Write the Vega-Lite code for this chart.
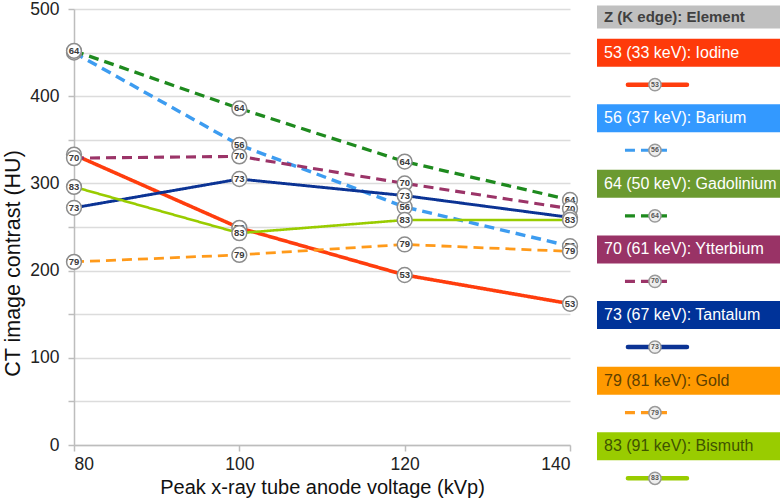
{
  "$schema": "https://vega.github.io/schema/vega-lite/v6.json",
  "padding": {"left": 2, "top": 0, "right": 0, "bottom": 0},
  "background": "white",
  "config": {"font": "Liberation Sans", "view": {"stroke": null}, "concat": {"spacing": 16}},
  "datasets": {
    "points": [
      {"element": "53 (33 keV): Iodine", "z": 53, "kvp": 80, "hu": 333},
      {"element": "53 (33 keV): Iodine", "z": 53, "kvp": 100, "hu": 249},
      {"element": "53 (33 keV): Iodine", "z": 53, "kvp": 120, "hu": 195},
      {"element": "53 (33 keV): Iodine", "z": 53, "kvp": 140, "hu": 162},
      {"element": "56 (37 keV): Barium", "z": 56, "kvp": 80, "hu": 450},
      {"element": "56 (37 keV): Barium", "z": 56, "kvp": 100, "hu": 344},
      {"element": "56 (37 keV): Barium", "z": 56, "kvp": 120, "hu": 273},
      {"element": "56 (37 keV): Barium", "z": 56, "kvp": 140, "hu": 228},
      {"element": "64 (50 keV): Gadolinium", "z": 64, "kvp": 80, "hu": 452},
      {"element": "64 (50 keV): Gadolinium", "z": 64, "kvp": 100, "hu": 386},
      {"element": "64 (50 keV): Gadolinium", "z": 64, "kvp": 120, "hu": 325},
      {"element": "64 (50 keV): Gadolinium", "z": 64, "kvp": 140, "hu": 281},
      {"element": "70 (61 keV): Ytterbium", "z": 70, "kvp": 80, "hu": 329},
      {"element": "70 (61 keV): Ytterbium", "z": 70, "kvp": 100, "hu": 331},
      {"element": "70 (61 keV): Ytterbium", "z": 70, "kvp": 120, "hu": 300},
      {"element": "70 (61 keV): Ytterbium", "z": 70, "kvp": 140, "hu": 271},
      {"element": "73 (67 keV): Tantalum", "z": 73, "kvp": 80, "hu": 272},
      {"element": "73 (67 keV): Tantalum", "z": 73, "kvp": 100, "hu": 305},
      {"element": "73 (67 keV): Tantalum", "z": 73, "kvp": 120, "hu": 286},
      {"element": "73 (67 keV): Tantalum", "z": 73, "kvp": 140, "hu": 261},
      {"element": "79 (81 keV): Gold", "z": 79, "kvp": 80, "hu": 210},
      {"element": "79 (81 keV): Gold", "z": 79, "kvp": 100, "hu": 218},
      {"element": "79 (81 keV): Gold", "z": 79, "kvp": 120, "hu": 230},
      {"element": "79 (81 keV): Gold", "z": 79, "kvp": 140, "hu": 222},
      {"element": "83 (91 keV): Bismuth", "z": 83, "kvp": 80, "hu": 296},
      {"element": "83 (91 keV): Bismuth", "z": 83, "kvp": 100, "hu": 243},
      {"element": "83 (91 keV): Bismuth", "z": 83, "kvp": 120, "hu": 258},
      {"element": "83 (91 keV): Bismuth", "z": 83, "kvp": 140, "hu": 258}
    ],
    "legend": [
      {"element": "53 (33 keV): Iodine", "z": 53, "order": 1},
      {"element": "56 (37 keV): Barium", "z": 56, "order": 2},
      {"element": "64 (50 keV): Gadolinium", "z": 64, "order": 3},
      {"element": "70 (61 keV): Ytterbium", "z": 70, "order": 4},
      {"element": "73 (67 keV): Tantalum", "z": 73, "order": 5},
      {"element": "79 (81 keV): Gold", "z": 79, "order": 6},
      {"element": "83 (91 keV): Bismuth", "z": 83, "order": 7}
    ]
  },
  "hconcat": [
    {
      "width": 496,
      "height": 436,
      "data": {"name": "points"},
      "encoding": {
        "x": {"field": "kvp", "type": "quantitative",
          "scale": {"domain": [80, 140], "nice": false, "zero": false},
          "axis": {"values": [80, 100, 120, 140], "grid": false, "title": "Peak x-ray tube anode voltage (kVp)",
            "titleFontSize": 20, "titleFontWeight": "normal", "titleColor": "#111111", "titlePadding": 5,
            "labelFontSize": 17.5, "labelColor": "#222222", "labelPadding": 4,
            "tickColor": "#bdbdbd", "tickSize": 6, "tickWidth": 1.5, "domainColor": "#bdbdbd", "domainWidth": 1.5}},
        "y": {"field": "hu", "type": "quantitative",
          "scale": {"domain": [0, 500], "nice": false, "zero": false},
          "axis": {"values": [0, 50, 100, 150, 200, 250, 300, 350, 400, 450, 500],
            "labelExpr": "datum.value % 100 === 0 ? datum.label : ''",
            "grid": true, "gridColor": "#dcdcdc", "gridWidth": 1.5,
            "title": "CT image contrast (HU)", "titleFontSize": 21.5, "titleFontWeight": "normal", "titleColor": "#111111", "titlePadding": 5, "titleY": 254,
            "labelFontSize": 17.5, "labelColor": "#222222", "labelPadding": 9,
            "tickColor": "#bdbdbd", "tickSize": 6, "tickWidth": 1.5, "domainColor": "#bdbdbd", "domainWidth": 1.5}}
      },
      "layer": [
        {
          "mark": {"type": "line", "strokeCap": "butt"},
          "encoding": {
            "color": {"field": "element", "type": "nominal", "legend": null,
              "scale": {"domain": ["53 (33 keV): Iodine", "56 (37 keV): Barium", "64 (50 keV): Gadolinium", "70 (61 keV): Ytterbium", "73 (67 keV): Tantalum", "79 (81 keV): Gold", "83 (91 keV): Bismuth"],
                "range": ["#ff3d0d", "#3d9cf0", "#1e8a1e", "#9b3468", "#0b3394", "#ff9a1a", "#99cc00"]}},
            "strokeDash": {"field": "element", "type": "nominal", "legend": null,
              "scale": {"domain": ["53 (33 keV): Iodine", "56 (37 keV): Barium", "64 (50 keV): Gadolinium", "70 (61 keV): Ytterbium", "73 (67 keV): Tantalum", "79 (81 keV): Gold", "83 (91 keV): Bismuth"],
                "range": [[1, 0], [10, 6], [10, 6], [10, 6], [1, 0], [10, 6], [1, 0]]}},
            "strokeWidth": {"field": "element", "type": "nominal", "legend": null,
              "scale": {"domain": ["53 (33 keV): Iodine", "56 (37 keV): Barium", "64 (50 keV): Gadolinium", "70 (61 keV): Ytterbium", "73 (67 keV): Tantalum", "79 (81 keV): Gold", "83 (91 keV): Bismuth"],
                "range": [3.6, 2.6, 2.6, 2.6, 3.6, 2.6, 3.6]}}
          }
        },
        {"transform": [{"filter": "datum.z === 53"}], "layer": [
          {"mark": {"type": "point", "shape": "circle", "filled": true, "fill": "#ffffff", "stroke": "#8c8c8c", "strokeWidth": 1.5, "size": 220, "opacity": 1}},
          {"mark": {"type": "text", "fontSize": 9.5, "fontWeight": "bold", "fill": "#3a3a3a", "baseline": "middle", "align": "center"}, "encoding": {"text": {"field": "z", "type": "nominal"}}}]},
        {"transform": [{"filter": "datum.z === 56"}], "layer": [
          {"mark": {"type": "point", "shape": "circle", "filled": true, "fill": "#ffffff", "stroke": "#8c8c8c", "strokeWidth": 1.5, "size": 220, "opacity": 1}},
          {"mark": {"type": "text", "fontSize": 9.5, "fontWeight": "bold", "fill": "#3a3a3a", "baseline": "middle", "align": "center"}, "encoding": {"text": {"field": "z", "type": "nominal"}}}]},
        {"transform": [{"filter": "datum.z === 64"}], "layer": [
          {"mark": {"type": "point", "shape": "circle", "filled": true, "fill": "#ffffff", "stroke": "#8c8c8c", "strokeWidth": 1.5, "size": 220, "opacity": 1}},
          {"mark": {"type": "text", "fontSize": 9.5, "fontWeight": "bold", "fill": "#3a3a3a", "baseline": "middle", "align": "center"}, "encoding": {"text": {"field": "z", "type": "nominal"}}}]},
        {"transform": [{"filter": "datum.z === 70"}], "layer": [
          {"mark": {"type": "point", "shape": "circle", "filled": true, "fill": "#ffffff", "stroke": "#8c8c8c", "strokeWidth": 1.5, "size": 220, "opacity": 1}},
          {"mark": {"type": "text", "fontSize": 9.5, "fontWeight": "bold", "fill": "#3a3a3a", "baseline": "middle", "align": "center"}, "encoding": {"text": {"field": "z", "type": "nominal"}}}]},
        {"transform": [{"filter": "datum.z === 73"}], "layer": [
          {"mark": {"type": "point", "shape": "circle", "filled": true, "fill": "#ffffff", "stroke": "#8c8c8c", "strokeWidth": 1.5, "size": 220, "opacity": 1}},
          {"mark": {"type": "text", "fontSize": 9.5, "fontWeight": "bold", "fill": "#3a3a3a", "baseline": "middle", "align": "center"}, "encoding": {"text": {"field": "z", "type": "nominal"}}}]},
        {"transform": [{"filter": "datum.z === 79"}], "layer": [
          {"mark": {"type": "point", "shape": "circle", "filled": true, "fill": "#ffffff", "stroke": "#8c8c8c", "strokeWidth": 1.5, "size": 220, "opacity": 1}},
          {"mark": {"type": "text", "fontSize": 9.5, "fontWeight": "bold", "fill": "#3a3a3a", "baseline": "middle", "align": "center"}, "encoding": {"text": {"field": "z", "type": "nominal"}}}]},
        {"transform": [{"filter": "datum.z === 83"}], "layer": [
          {"mark": {"type": "point", "shape": "circle", "filled": true, "fill": "#ffffff", "stroke": "#8c8c8c", "strokeWidth": 1.5, "size": 220, "opacity": 1}},
          {"mark": {"type": "text", "fontSize": 9.5, "fontWeight": "bold", "fill": "#3a3a3a", "baseline": "middle", "align": "center"}, "encoding": {"text": {"field": "z", "type": "nominal"}}}]}
      ]
    },
    {
      "width": 184,
      "height": 436,
      "data": {"name": "legend"},
      "encoding": {
        "y": {"field": "order", "type": "quantitative", "scale": {"domain": [0.411, 6.904], "reverse": true, "nice": false, "zero": false}, "axis": null}
      },
      "layer": [
        {"data": {"values": [{"order": 0, "label": "Z (K edge): Element"}]},
          "mark": {"type": "bar", "orient": "horizontal", "height": 23, "yOffset": 30, "color": "#c0c0c0"},
          "encoding": {"x": {"datum": 0, "type": "quantitative", "scale": {"domain": [0, 1], "nice": false, "zero": false}, "axis": null}, "x2": {"datum": 1}}},
        {"data": {"values": [{"order": 0, "label": "Z (K edge): Element"}]},
          "mark": {"type": "text", "align": "left", "baseline": "middle", "dx": 7, "yOffset": 30, "fontSize": 15, "fontWeight": "bold", "fill": "#404040"},
          "encoding": {"x": {"datum": 0, "type": "quantitative"}, "text": {"field": "label"}}},
        {"mark": {"type": "bar", "orient": "horizontal", "height": 28},
          "encoding": {"x": {"datum": 0, "type": "quantitative"}, "x2": {"datum": 1},
            "fill": {"field": "element", "type": "nominal", "legend": null,
              "scale": {"domain": ["53 (33 keV): Iodine", "56 (37 keV): Barium", "64 (50 keV): Gadolinium", "70 (61 keV): Ytterbium", "73 (67 keV): Tantalum", "79 (81 keV): Gold", "83 (91 keV): Bismuth"],
                "range": ["#fe3a0a", "#3399ff", "#6b9a30", "#993366", "#003399", "#ff9900", "#99cc00"]}}}},
        {"transform": [{"filter": "datum.z < 79"}],
          "mark": {"type": "text", "align": "left", "baseline": "middle", "dx": 7, "fontSize": 16, "fill": "#ffffff"},
          "encoding": {"x": {"datum": 0, "type": "quantitative"}, "text": {"field": "element"}}},
        {"transform": [{"filter": "datum.z === 79"}],
          "mark": {"type": "text", "align": "left", "baseline": "middle", "dx": 7, "fontSize": 16, "fill": "#5e4000"},
          "encoding": {"x": {"datum": 0, "type": "quantitative"}, "text": {"field": "element"}}},
        {"transform": [{"filter": "datum.z === 83"}],
          "mark": {"type": "text", "align": "left", "baseline": "middle", "dx": 7, "fontSize": 16, "fill": "#3f5400"},
          "encoding": {"x": {"datum": 0, "type": "quantitative"}, "text": {"field": "element"}}},
        {"transform": [{"filter": "datum.z === 53 || datum.z === 73 || datum.z === 83"}],
          "mark": {"type": "rule", "yOffset": 32, "strokeCap": "round", "strokeWidth": 4.5},
          "encoding": {"x": {"datum": 0.168, "type": "quantitative"}, "x2": {"datum": 0.489},
            "color": {"field": "element", "type": "nominal", "legend": null},
            "strokeDash": {"field": "element", "type": "nominal", "legend": null}}},
        {"transform": [{"filter": "datum.z !== 53 && datum.z !== 73 && datum.z !== 83"}],
          "mark": {"type": "rule", "yOffset": 32, "strokeWidth": 3.2},
          "encoding": {"x": {"datum": 0.152, "type": "quantitative"}, "x2": {"datum": 0.402},
            "color": {"field": "element", "type": "nominal", "legend": null},
            "strokeDash": {"field": "element", "type": "nominal", "legend": null}}},
        {"mark": {"type": "point", "shape": "circle", "filled": true, "fill": "#eeeeee", "stroke": "#9a9a9a", "strokeWidth": 1.5, "size": 150, "opacity": 1, "yOffset": 32},
          "encoding": {"x": {"datum": 0.315, "type": "quantitative"}}},
        {"mark": {"type": "text", "fontSize": 7, "fontWeight": "bold", "fill": "#555555", "baseline": "middle", "align": "center", "yOffset": 32},
          "encoding": {"x": {"datum": 0.315, "type": "quantitative"}, "text": {"field": "z", "type": "nominal"}}}
      ]
    }
  ]
}
